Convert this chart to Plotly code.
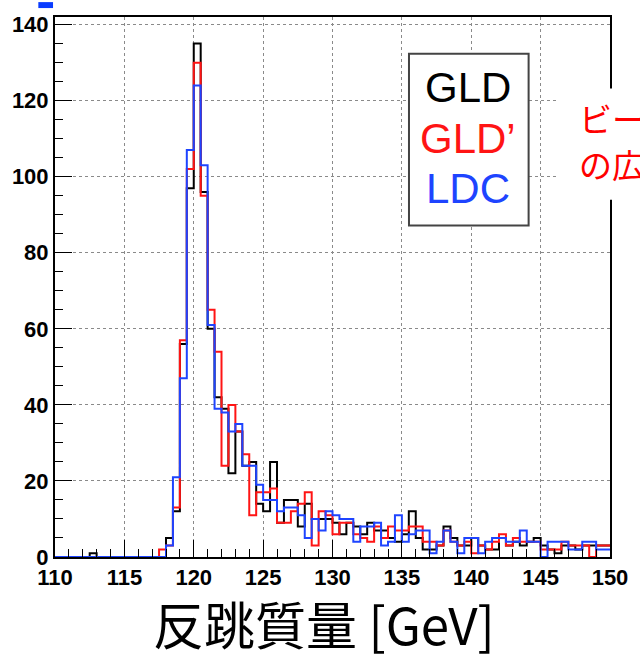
import numpy as np
import plotly.graph_objects as go

# ---- data: recoil-mass histograms, 0.5 GeV bins from 110 to 150 GeV ----
bin_lo = 110.0
bin_hi = 150.0
bin_width = 0.5

gld = [0, 0, 0, 0, 0, 1, 0, 0, 0, 0,
       0, 0, 0, 0, 0, 0, 5, 12, 56, 97,
       135, 96, 60, 42, 39, 22, 33, 24, 25, 14,
       12, 25, 9, 15, 15, 8, 14, 10, 10, 10,
       9, 6, 9, 8, 6, 9, 7, 7, 5, 4,
       6, 12, 5, 2, 2, 3, 8, 5, 3, 3,
       5, 3, 2, 2, 5, 3, 4, 3, 4, 5,
       3, 2, 1, 3, 3, 2, 3, 3, 3, 3]

gld_prime = [0, 0, 0, 0, 0, 0, 0, 0, 0, 0,
             0, 0, 0, 0, 0, 2, 3, 13, 57, 102,
             130, 95, 65, 54, 24, 40, 33, 27, 11, 17,
             17, 18, 9, 9, 12, 14, 17, 3, 12, 11,
             6, 9, 9, 6, 5, 4, 8, 5, 8, 7,
             7, 8, 8, 4, 4, 3, 7, 4, 3, 4,
             1, 3, 2, 4, 6, 3, 5, 4, 4, 4,
             2, 2, 2, 4, 3, 3, 3, 0, 3, 3]

ldc = [0, 0, 0, 0, 0, 0, 0, 0, 0, 0,
       0, 0, 0, 0, 0, 0, 3, 21, 47, 107,
       124, 103, 61, 39, 38, 33, 35, 24, 24, 19,
       15, 15, 12, 13, 13, 11, 5, 10, 7, 12,
       11, 10, 10, 4, 8, 8, 9, 3, 4, 11,
       4, 6, 7, 7, 1, 4, 7, 4, 1, 5,
       5, 1, 4, 5, 5, 4, 4, 7, 4, 4,
       0, 4, 4, 4, 2, 2, 4, 4, 2, 2]

series_names = ["GLD", "GLD\u2019", "LDC"]
series_colors = ["#000000", "#ff1414", "#1e44ff"]
x_ticks = [110, 115, 120, 125, 130, 135, 140, 145, 150]
y_ticks = [0, 20, 40, 60, 80, 100, 120, 140]
x_title = "反跳質量 [GeV]"
side_note = ["ビーム", "の広がり"]

edges = np.arange(bin_lo, bin_hi + bin_width / 2, bin_width)

fig = go.Figure()
for name, counts, color in zip(series_names, [gld, gld_prime, ldc], series_colors):
    yvals = list(counts) + [counts[-1]]
    fig.add_trace(go.Scatter(
        x=edges, y=yvals, mode="lines", line_shape="hv",
        line=dict(color=color, width=2), name=name, showlegend=False,
        hoverinfo="skip"))

# plot area in pixels: x 52..618, y 13..557
L, R, T, B = 52, 22, 13, 99
W, H = 640, 656
pw, ph = W - L - R, H - T - B


def px(xp):
    return (xp - L) / pw


def py(yp):
    return (H - B - yp) / ph


tickfont = dict(family="Liberation Sans, Arial, sans-serif", size=22,
                color="black", weight="bold")

fig.update_xaxes(
    range=[bin_lo, bin_hi], tickvals=x_ticks, ticktext=[str(v) for v in x_ticks],
    ticks="inside", ticklen=17, tickwidth=1, tickcolor="black",
    minor=dict(dtick=1, ticks="inside", ticklen=8, tickcolor="black", showgrid=False),
    showline=True, linecolor="black", linewidth=2, mirror=True,
    showgrid=True, gridcolor="#8a8a8a", griddash="dot", gridwidth=1,
    zeroline=False, tickfont=tickfont)
fig.update_yaxes(
    range=[0, 142], tickvals=y_ticks, ticktext=[str(v) for v in y_ticks],
    ticks="inside", ticklen=17, tickwidth=1, tickcolor="black",
    minor=dict(dtick=5, ticks="inside", ticklen=8, tickcolor="black", showgrid=False),
    showline=True, linecolor="black", linewidth=2, mirror=True,
    showgrid=True, gridcolor="#8a8a8a", griddash="dot", gridwidth=1,
    zeroline=False, tickfont=tickfont)

shapes = [
    # legend box
    dict(type="rect", xref="paper", yref="paper",
         x0=px(413), x1=px(535), y0=py(223), y1=py(50),
         line=dict(color="#444444", width=2), fillcolor="white", layer="above"),
    # white background of the cut-off side note
    dict(type="rect", xref="paper", yref="paper",
         x0=px(566), x1=px(660), y0=py(197), y1=py(85),
         line=dict(width=0), fillcolor="white", layer="above"),
    # small blue mark at the top-left corner
    dict(type="rect", xref="paper", yref="paper",
         x0=px(35), x1=px(50), y0=py(4), y1=py(-2),
         line=dict(width=0), fillcolor="#0a3cff", layer="above"),
]

annotations = []
legend_y = [84, 135, 186]
for name, color, yy in zip(series_names, series_colors, legend_y):
    annotations.append(dict(
        text=name, xref="paper", yref="paper", x=px(473), y=py(yy),
        xanchor="center", yanchor="middle", showarrow=False,
        font=dict(family="Liberation Sans, Arial, sans-serif", size=42, color=color)))

for txt, yy in zip(side_note, [115, 161]):
    annotations.append(dict(
        text=txt, xref="paper", yref="paper", x=px(584), y=py(yy),
        xanchor="left", yanchor="middle", showarrow=False,
        font=dict(family="Noto Sans CJK JP", size=33, color="#ff0000")))

annotations.append(dict(
    text=x_title, xref="paper", yref="paper", x=px(326), y=py(623),
    xanchor="center", yanchor="middle", showarrow=False,
    font=dict(family="Noto Sans CJK JP", size=51, color="black")))

fig.update_layout(
    width=W, height=H, autosize=False,
    margin=dict(l=L, r=R, t=T, b=B, pad=0),
    paper_bgcolor="white", plot_bgcolor="white",
    shapes=shapes, annotations=annotations, showlegend=False)

fig.write_html("out.html", config={"displayModeBar": False})
